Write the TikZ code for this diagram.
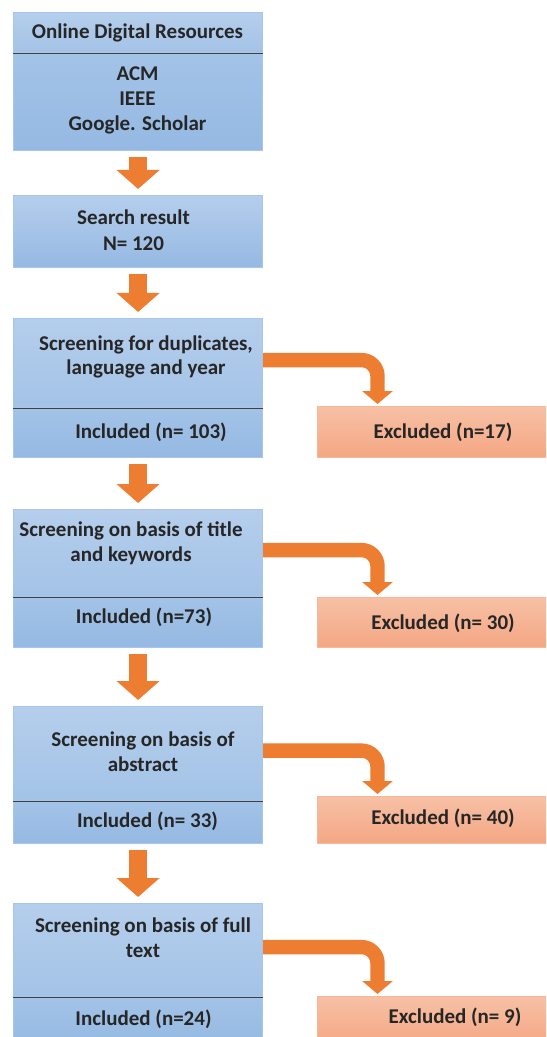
\documentclass[tikz,border=0pt]{standalone}
\usepackage{fontspec}
\setmainfont{Carlito}
\usetikzlibrary{arrows.meta,calc}

\definecolor{bluea}{RGB}{181,206,236}
\definecolor{blueb}{RGB}{163,195,231}
\definecolor{bluec}{RGB}{149,185,227}
\definecolor{boxline}{RGB}{166,199,235}
\definecolor{extop}{RGB}{247,192,165}
\definecolor{exbot}{RGB}{244,167,131}
\definecolor{exline}{RGB}{247,184,154}
\definecolor{flow}{RGB}{237,125,49}
\definecolor{rule}{RGB}{64,64,64}

\begin{document}
\begin{tikzpicture}[x=0.5pt,y=-0.5pt,
	box/.style={rectangle,draw=boxline,line width=0.6pt,inner sep=0pt,minimum width=124.5pt,anchor=north west},
	upper/.style={box,top color=bluea,bottom color=blueb},
	lower/.style={box,top color=blueb,bottom color=bluec},
	whole/.style={box,top color=bluea,bottom color=bluec},
	exbox/.style={box,draw=exline,top color=extop,bottom color=exbot},
	txt/.style={align=center,inner sep=0pt,text=black!85,font=\bfseries\fontsize{10.5}{12.4}\selectfont},
	divider/.style={draw=rule,line width=0.6pt},
	down/.style={draw=flow,line width=9pt,-{Triangle[width=21pt,length=9.5pt]},shorten <=3pt,shorten >=3pt},
	side/.style={draw=flow,line width=7.2pt,rounded corners=8pt,-{Triangle[width=15pt,length=6.5pt]}}]
	\useasboundingbox (0,0) rectangle (546,1037);
	\clip (0,0) rectangle (546,1037);
	% Quellen
	\node[upper,minimum height=20pt] (src) at (13,12) {};
	\node[lower,minimum height=49pt] (srclist) at (13,52) {};
	\draw[divider] (src.south west) -- (src.south east);
	\node[txt] (tsrc) at (137.5,33) {Online Digital Resources};
	\node[txt,font=\bfseries\fontsize{10.5}{12.5}\selectfont] (tsrclist) at (137.5,100) {ACM\\IEEE\\Google. Scholar};
	% Suche
	\node[whole,minimum height=36pt] (srch) at (13,195) {};
	\node[txt,font=\bfseries\fontsize{10.5}{13}\selectfont] (tsrch) at (133.5,230) {Search result\\N= 120};
	% Duplikate
	\node[upper,minimum height=44.5pt] (dup) at (13,318) {};
	\node[lower,minimum height=25pt] (incdup) at (13,407) {};
	\draw[divider] (dup.south west) -- (dup.south east);
	\node[txt] (tdup) at (146,357) {Screening for duplicates,\\language and year};
	\node[txt] (tincdup) at (151,432) {Included (n= 103)};
	\node[exbox,minimum height=25.5pt] (exdup) at (317,406) {};
	\node[txt] (texdup) at (443,432) {Excluded (n=17)};
	% Titel
	\node[upper,minimum height=43.5pt] (ttl) at (13,509) {};
	\node[lower,minimum height=25.5pt] (incttl) at (13,596) {};
	\draw[divider] (ttl.south west) -- (ttl.south east);
	\node[txt] (tttl) at (131,543) {Screening on basis of title\\and keywords};
	\node[txt] (tincttl) at (144,617) {Included (n=73)};
	\node[exbox,minimum height=25pt] (exttl) at (317,597) {};
	\node[txt] (texttl) at (443,623) {Excluded (n= 30)};
	% Abstract
	\node[upper,minimum height=47pt] (abs) at (13,706) {};
	\node[lower,minimum height=21.5pt] (incabs) at (13,800) {};
	\draw[divider] (abs.south west) -- (abs.south east);
	\node[txt] (tabs) at (143,751.5) {Screening on basis of\\abstract};
	\node[txt] (tincabs) at (147.5,821) {Included (n= 33)};
	\node[exbox,minimum height=23.5pt] (exabs) at (317,796) {};
	\node[txt] (texabs) at (443,818) {Excluded (n= 40)};
	% Volltext
	\node[upper,minimum height=46.5pt] (full) at (13,903) {};
	\node[lower,minimum height=25pt] (incfull) at (13,996) {};
	\draw[divider] (full.south west) -- (full.south east);
	\node[txt] (tfull) at (143,938) {Screening on basis of full\\text};
	\node[txt] (tincfull) at (143.5,1019) {Included (n=24)};
	\node[exbox,minimum height=25pt] (exfull) at (317,996) {};
	\node[txt] (texfull) at (455,1017) {Excluded (n= 9)};
	% Pfeile
	\draw[down] (srclist) -- (srch);
	\draw[down] (srch) -- (dup);
	\draw[down] (incdup) -- (ttl);
	\draw[down] (incttl) -- (abs);
	\draw[down] (incabs) -- (full);
	\draw[side] ([yshift=1.5pt]dup.east) -| ($(exdup.north west)+(60.5,-2)$);
	\draw[side] ([yshift=1.5pt]ttl.east) -| ($(exttl.north west)+(60.5,-2)$);
	\draw[side] ([yshift=1.5pt]abs.east) -| ($(exabs.north west)+(60.5,-2)$);
	\draw[side] ([yshift=1.5pt]full.east) -| ($(exfull.north west)+(60.5,-2)$);
\end{tikzpicture}
\end{document}
